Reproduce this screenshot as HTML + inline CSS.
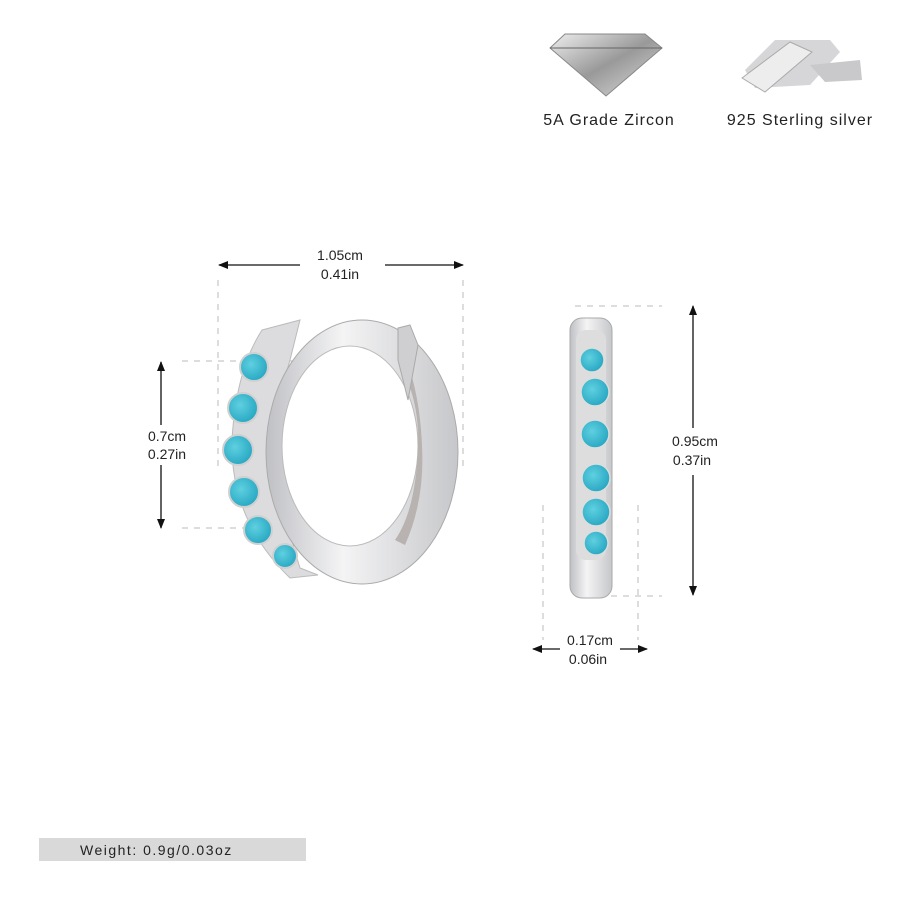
<!DOCTYPE html>
<html><head><style>
body{margin:0;background:#fff;}
svg{display:block;}
text{font-family:"Liberation Sans",sans-serif;fill:#222;}
</style></head><body>
<svg width="900" height="900" viewBox="0 0 900 900">
<defs>
<linearGradient id="sil" x1="0" y1="0" x2="1" y2="0">
<stop offset="0" stop-color="#bfc0c4"/><stop offset="0.4" stop-color="#f4f4f5"/><stop offset="1" stop-color="#c6c7ca"/></linearGradient>
<radialGradient id="tq" cx="0.4" cy="0.4" r="0.6"><stop offset="0" stop-color="#5fd0e0"/><stop offset="1" stop-color="#2aa9c4"/></radialGradient>
<marker id="ar" markerWidth="10" markerHeight="8" refX="9" refY="4" orient="auto-start-reverse" markerUnits="userSpaceOnUse"><path d="M0,0 L10,4 L0,8 Z" fill="#111"/></marker>
<linearGradient id="dia" x1="0" y1="0" x2="1" y2="1"><stop offset="0" stop-color="#eee"/><stop offset="0.5" stop-color="#999"/><stop offset="1" stop-color="#ddd"/></linearGradient>
</defs>
<path d="M550,48 L565,34 L645,34 L662,48 L606,96 Z" fill="url(#dia)" stroke="#888" stroke-width="1"/>
<path d="M550,48 L662,48" stroke="#666"/>
<path d="M745,70 L775,40 L830,40 L840,52 L810,85 L755,88 Z" fill="#d6d6d8"/>
<path d="M742,78 L790,42 L812,52 L765,92 Z" fill="#ededee" stroke="#aaa"/>
<path d="M810,65 L860,60 L862,80 L825,82 Z" fill="#c9c9cb"/>
<text x="609" y="125" font-size="16" text-anchor="middle" letter-spacing="1">5A Grade Zircon</text>
<text x="800" y="125" font-size="16" text-anchor="middle" letter-spacing="1">925 Sterling silver</text>
<g stroke="#bbb" stroke-dasharray="6,6" stroke-width="1">
<line x1="218" y1="280" x2="218" y2="470"/><line x1="463" y1="280" x2="463" y2="470"/>
<line x1="182" y1="361" x2="345" y2="361"/><line x1="182" y1="528" x2="345" y2="528"/>
<line x1="575" y1="306" x2="662" y2="306"/><line x1="575" y1="596" x2="662" y2="596"/>
<line x1="543" y1="505" x2="543" y2="640"/><line x1="638" y1="505" x2="638" y2="640"/>
</g>
<g stroke="#111" stroke-width="1.3">
<line x1="219" y1="265" x2="300" y2="265" marker-start="url(#ar)"/>
<line x1="385" y1="265" x2="463" y2="265" marker-end="url(#ar)"/>
<line x1="161" y1="362" x2="161" y2="425" marker-start="url(#ar)"/>
<line x1="161" y1="465" x2="161" y2="528" marker-end="url(#ar)"/>
<line x1="693" y1="306" x2="693" y2="428" marker-start="url(#ar)"/>
<line x1="693" y1="475" x2="693" y2="595" marker-end="url(#ar)"/>
<line x1="533" y1="649" x2="560" y2="649" marker-start="url(#ar)"/>
<line x1="620" y1="649" x2="647" y2="649" marker-end="url(#ar)"/>
</g>
<g font-size="14" text-anchor="middle">
<text x="340" y="260">1.05cm</text><text x="340" y="279">0.41in</text>
<text x="167" y="441">0.7cm</text><text x="167" y="459">0.27in</text>
<text x="695" y="446">0.95cm</text><text x="692" y="465">0.37in</text>
<text x="590" y="645">0.17cm</text><text x="588" y="664">0.06in</text>
</g>
<!-- gem band -->
<path d="M262,330 L300,320 L290,360 Q262,450 300,568 L318,575 L290,578 Q230,520 232,440 Q236,370 262,330 Z" fill="#dcdcde" stroke="#bbb"/>
<ellipse cx="362" cy="452" rx="96" ry="132" fill="url(#sil)" stroke="#aaa"/>
<ellipse cx="350" cy="446" rx="68" ry="100" fill="#fff" stroke="#bbb"/>
<path d="M398,360 Q420,400 418,446 Q416,510 395,540 L405,545 Q425,500 422,446 Q420,395 405,355 Z" fill="#b8b2b0"/>
<path d="M398,328 L410,325 L418,345 L408,400 L398,360 Z" fill="#cfcfd2" stroke="#aaa"/>
<g fill="url(#tq)" stroke="#d0d0d0" stroke-width="2">
<circle cx="254" cy="367" r="14"/><circle cx="243" cy="408" r="15"/><circle cx="238" cy="450" r="15"/>
<circle cx="244" cy="492" r="15"/><circle cx="258" cy="530" r="14"/><circle cx="285" cy="556" r="12"/>
</g>
<rect x="570" y="318" width="42" height="280" rx="12" fill="url(#sil)" stroke="#aaa"/>
<rect x="576" y="330" width="30" height="230" rx="10" fill="#ddd"/>
<g fill="url(#tq)" stroke="#ddd" stroke-width="1.5">
<circle cx="592" cy="360" r="12"/><circle cx="595" cy="392" r="14"/><circle cx="595" cy="434" r="14"/>
<circle cx="596" cy="478" r="14"/><circle cx="596" cy="512" r="14"/><circle cx="596" cy="543" r="12"/>
</g>
<rect x="39" y="838" width="267" height="23" fill="#d9d9d9"/>
<text x="80" y="855" font-size="14" letter-spacing="1.5">Weight: 0.9g/0.03oz</text>
</svg>
</body></html>
